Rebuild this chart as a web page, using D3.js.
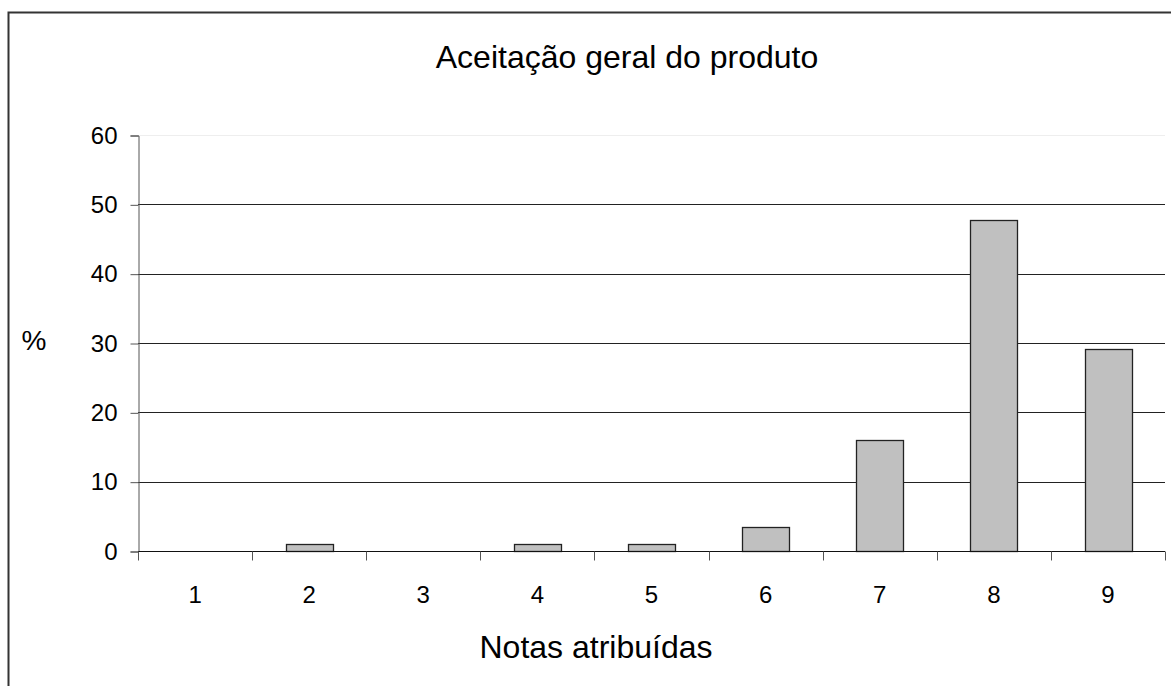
<!DOCTYPE html>
<html>
<head>
<meta charset="utf-8">
<script src="https://cdn.jsdelivr.net/npm/d3@7"></script>
<style>
  body { margin: 0; background: #fff; }
  text { font-family: "Liberation Sans", Arial, sans-serif; fill: #000; }
</style>
</head>
<body>
<div id="chart"></div>
<script>
var notas = ["1", "2", "3", "4", "5", "6", "7", "8", "9"];
var percentuais = [0, 1.0, 0, 1.0, 1.0, 3.5, 16.0, 47.7, 29.1];
var yTicks = [0, 10, 20, 30, 40, 50, 60];

var svgWidth = 1171;
var svgHeight = 686;

var margin = { top: 135, right: 6, bottom: 135, left: 138 };

var svg = d3.select("#chart")
  .append("svg")
  .attr("width", svgWidth)
  .attr("height", svgHeight);

// outer frame (runs off the right/bottom edge)
svg.append("rect")
  .attr("x", 8.5)
  .attr("y", 12.5)
  .attr("width", svgWidth + 20)
  .attr("height", svgHeight + 20)
  .attr("fill", "none")
  .attr("stroke", "#333")
  .attr("stroke-width", 2);

var chartGroup = svg.append("g")
  .attr("transform", `translate(${margin.left}, ${margin.top})`);

var xScale = d3.scaleBand()
  .domain(notas)
  .range([0, 1027])
  .paddingInner(0.59)
  .paddingOuter(0.295);

var yScale = d3.scaleLinear()
  .domain([0, 60])
  .range([416, 0]);

// gridlines
chartGroup.selectAll("line.grid")
  .data(yTicks.filter(d => d > 0))
  .enter().append("line")
  .attr("class", "grid")
  .attr("x1", 0)
  .attr("x2", 1027)
  .attr("y1", d => Math.round(yScale(d)) + 0.5)
  .attr("y2", d => Math.round(yScale(d)) + 0.5)
  .attr("stroke", d => d === 60 ? "#eee" : "#222")
  .attr("stroke-width", 1);

// bars
chartGroup.selectAll("rect.bar")
  .data(percentuais)
  .enter().append("rect")
  .attr("class", "bar")
  .attr("x", (d, i) => Math.round(xScale(notas[i])) + 0.5)
  .attr("y", d => Math.round(yScale(d)) + 0.5)
  .attr("width", Math.round(xScale.bandwidth()))
  .attr("height", d => Math.round(yScale(0)) - Math.round(yScale(d)))
  .attr("fill", "#c0c0c0")
  .attr("stroke", "#222")
  .attr("stroke-width", 1.3)
  .style("display", d => d > 0 ? null : "none");

// y axis
var leftAxis = d3.axisLeft(yScale)
  .tickValues(yTicks)
  .tickSize(8)
  .tickPadding(21);

var yAxisG = chartGroup.append("g")
  .attr("transform", "translate(0.5, 0.5)")
  .call(leftAxis);
yAxisG.select(".domain").attr("stroke", "#555");
yAxisG.selectAll(".tick line").attr("stroke", "#555").attr("x1", 0).attr("x2", -8);
yAxisG.selectAll("text")
  .attr("x", -21)
  .style("font-size", "24px")
  .style("font-family", "Liberation Sans, Arial, sans-serif");

// x axis: ticks at category boundaries, labels centred
var xEdges = d3.scaleLinear().domain([0, notas.length]).range([0, 1027]);
var xAxisG = chartGroup.append("g")
  .attr("transform", `translate(0, ${Math.round(yScale(0)) + 0.5})`);
xAxisG.append("line")
  .attr("x1", 0).attr("x2", 1027)
  .attr("stroke", "#111");
xAxisG.selectAll("line.xtick")
  .data(d3.range(notas.length + 1))
  .enter().append("line")
  .attr("class", "xtick")
  .attr("x1", d => Math.round(xEdges(d)) + 0.5)
  .attr("x2", d => Math.round(xEdges(d)) + 0.5)
  .attr("y1", 0).attr("y2", 9)
  .attr("stroke", "#555");
xAxisG.selectAll("text.xlabel")
  .data(notas)
  .enter().append("text")
  .attr("class", "xlabel")
  .attr("x", d => xScale(d) + xScale.bandwidth() / 2)
  .attr("y", 51)
  .attr("text-anchor", "middle")
  .style("font-size", "24px")
  .text(d => d);

// title
svg.append("text")
  .attr("x", 627)
  .attr("y", 68)
  .attr("text-anchor", "middle")
  .style("font-size", "32px")
  .text("Aceitação geral do produto");

// axis labels
svg.append("text")
  .attr("x", 34)
  .attr("y", 350)
  .attr("text-anchor", "middle")
  .style("font-size", "28px")
  .text("%");

svg.append("text")
  .attr("x", 596)
  .attr("y", 658)
  .attr("text-anchor", "middle")
  .style("font-size", "32px")
  .text("Notas atribuídas");
</script>
</body>
</html>
